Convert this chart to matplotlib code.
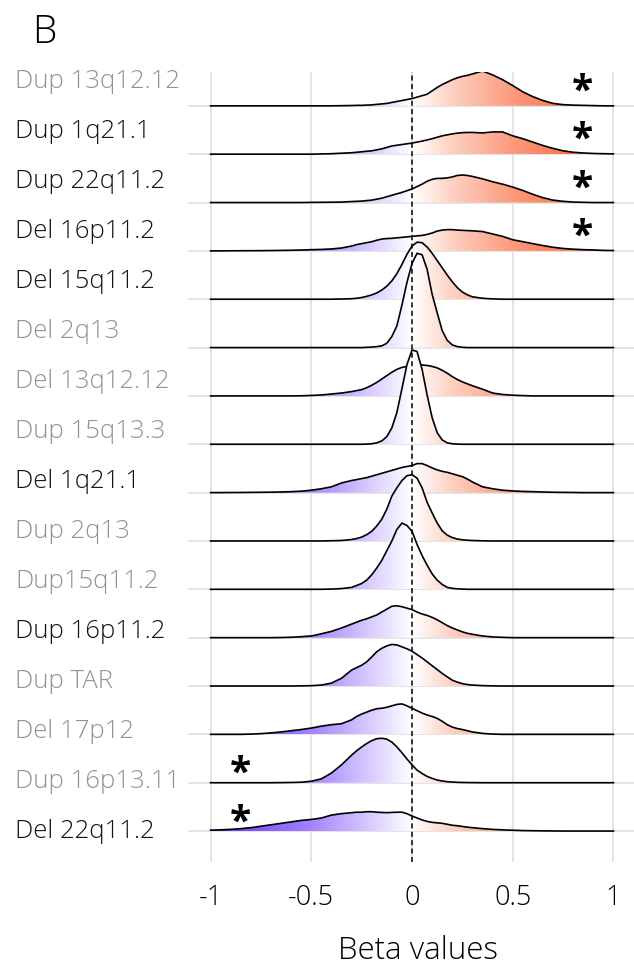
import numpy as np
import matplotlib
matplotlib.use("Agg")
import matplotlib.pyplot as plt
from matplotlib import transforms
from matplotlib.colors import LinearSegmentedColormap, Normalize

# ridge rows, top to bottom
labels = ["Dup 13q12.12", "Dup 1q21.1", "Dup 22q11.2", "Del 16p11.2",
          "Del 15q11.2", "Del 2q13", "Del 13q12.12", "Dup 15q13.3",
          "Del 1q21.1", "Dup 2q13", "Dup15q11.2", "Dup 16p11.2",
          "Dup TAR", "Del 17p12", "Dup 16p13.11", "Del 22q11.2"]
grey_label = [True, False, False, False, False, True, True, True,
              False, True, True, False, True, True, True, False]
# significant rows: '+' star on the right, '-' star on the left
star_side = ["+", "+", "+", "+", "", "", "", "", "", "", "", "", "", "", "-", "-"]

# beta grid the densities were read on (finer near zero)
beta = [-1.0, -0.95, -0.9, -0.85, -0.8, -0.75, -0.7, -0.65, -0.6, -0.55, -0.5, -0.45, -0.4, -0.35, -0.3,
        -0.275, -0.25, -0.225, -0.2, -0.175, -0.15, -0.125, -0.1, -0.075, -0.05, -0.025, 0.0,
        0.025, 0.05, 0.075, 0.1, 0.125, 0.15, 0.175, 0.2, 0.225, 0.25, 0.275,
        0.3, 0.35, 0.4, 0.45, 0.5, 0.55, 0.6, 0.65, 0.7, 0.75, 0.8, 0.85, 0.9, 0.95, 1.0]

# density heights (1 = one row spacing), same order as labels
heights = [
    [0, 0, 0, 0, 0, 0, 0, 0, 0, 0, 0, 0, 0, 0.003, 0.006,
     0.01, 0.01, 0.015, 0.02, 0.03, 0.04, 0.05, 0.07, 0.09, 0.11, 0.13, 0.15,
     0.18, 0.21, 0.24, 0.31, 0.38, 0.44, 0.49, 0.54, 0.58, 0.61, 0.63,
     0.66, 0.72, 0.64, 0.54, 0.42, 0.29, 0.19, 0.11, 0.05, 0.025, 0.015, 0.01, 0.005, 0, 0],
    [0, 0, 0, 0, 0, 0, 0, 0, 0, 0, 0, 0.005, 0.01, 0.02, 0.03,
     0.04, 0.05, 0.06, 0.07, 0.09, 0.11, 0.14, 0.17, 0.185, 0.2, 0.215, 0.23,
     0.25, 0.27, 0.295, 0.32, 0.35, 0.38, 0.4, 0.42, 0.435, 0.445, 0.45,
     0.45, 0.44, 0.46, 0.46, 0.38, 0.32, 0.25, 0.18, 0.12, 0.07, 0.04, 0.025, 0.015, 0.01, 0.007],
    [0, 0, 0, 0, 0, 0, 0, 0, 0, 0, 0.003, 0.005, 0.007, 0.01, 0.02,
     0.025, 0.03, 0.04, 0.05, 0.07, 0.09, 0.12, 0.15, 0.18, 0.21, 0.245, 0.28,
     0.33, 0.38, 0.44, 0.48, 0.5, 0.5, 0.51, 0.53, 0.56, 0.57, 0.56,
     0.54, 0.49, 0.43, 0.38, 0.32, 0.25, 0.17, 0.1, 0.05, 0.025, 0.01, 0.005, 0, 0, 0],
    [0, 0, 0.002, 0.003, 0.004, 0.005, 0.007, 0.01, 0.013, 0.018, 0.025, 0.03, 0.04, 0.06, 0.1,
     0.13, 0.15, 0.17, 0.19, 0.22, 0.245, 0.255, 0.26, 0.27, 0.28, 0.29, 0.3,
     0.31, 0.32, 0.34, 0.37, 0.41, 0.43, 0.44, 0.44, 0.43, 0.425, 0.42,
     0.415, 0.4, 0.35, 0.3, 0.23, 0.19, 0.15, 0.11, 0.075, 0.05, 0.035, 0.025, 0.02, 0.01, 0.007],
    [0, 0, 0, 0, 0, 0, 0, 0, 0, 0, 0, 0, 0, 0.005, 0.01,
     0.02, 0.035, 0.06, 0.09, 0.13, 0.19, 0.27, 0.38, 0.53, 0.72, 0.93, 1.1,
     1.18, 1.17, 1.08, 0.95, 0.8, 0.65, 0.5, 0.36, 0.24, 0.15, 0.09,
     0.05, 0.02, 0.007, 0, 0, 0, 0, 0, 0, 0, 0, 0, 0, 0, 0],
    [0, 0, 0, 0, 0, 0, 0, 0, 0, 0, 0, 0, 0, 0, 0,
     0, 0, 0.005, 0.01, 0.02, 0.035, 0.09, 0.23, 0.45, 0.88, 1.35, 1.74,
     1.95, 1.92, 1.62, 1.1, 0.72, 0.35, 0.15, 0.055, 0.02, 0.007, 0,
     0, 0, 0, 0, 0, 0, 0, 0, 0, 0, 0, 0, 0, 0, 0],
    [0, 0, 0, 0, 0, 0, 0, 0, 0, 0.003, 0.01, 0.02, 0.04, 0.06, 0.09,
     0.11, 0.13, 0.17, 0.22, 0.28, 0.35, 0.42, 0.49, 0.55, 0.59, 0.61, 0.62,
     0.63, 0.64, 0.63, 0.61, 0.58, 0.53, 0.47, 0.4, 0.34, 0.29, 0.25,
     0.21, 0.14, 0.06, 0.03, 0.015, 0.007, 0, 0, 0, 0, 0, 0, 0, 0, 0],
    [0, 0, 0, 0, 0, 0, 0, 0, 0, 0, 0, 0, 0, 0, 0,
     0, 0, 0.003, 0.01, 0.03, 0.07, 0.16, 0.34, 0.66, 1.15, 1.65, 1.95,
     1.92, 1.55, 1.02, 0.55, 0.24, 0.09, 0.03, 0.01, 0.003, 0, 0,
     0, 0, 0, 0, 0, 0, 0, 0, 0, 0, 0, 0, 0, 0, 0],
    [0, 0.001, 0.002, 0.003, 0.005, 0.007, 0.01, 0.014, 0.02, 0.03, 0.05, 0.08, 0.12, 0.2, 0.25,
     0.27, 0.29, 0.31, 0.34, 0.37, 0.4, 0.43, 0.46, 0.49, 0.52, 0.54, 0.56,
     0.6, 0.6, 0.56, 0.51, 0.47, 0.44, 0.42, 0.39, 0.36, 0.33, 0.28,
     0.22, 0.12, 0.08, 0.05, 0.035, 0.025, 0.02, 0.013, 0.008, 0.005, 0.003, 0, 0, 0, 0],
    [0, 0, 0, 0, 0, 0, 0, 0, 0, 0, 0, 0, 0.005, 0.01, 0.03,
     0.05, 0.08, 0.13, 0.2, 0.31, 0.45, 0.66, 0.93, 1.1, 1.25, 1.35, 1.37,
     1.3, 1.1, 0.8, 0.58, 0.37, 0.21, 0.12, 0.07, 0.04, 0.025, 0.015,
     0.01, 0.003, 0, 0, 0, 0, 0, 0, 0, 0, 0, 0, 0, 0, 0],
    [0, 0, 0, 0, 0, 0, 0, 0, 0, 0, 0, 0, 0.005, 0.015, 0.04,
     0.08, 0.12, 0.19, 0.3, 0.44, 0.6, 0.8, 1.0, 1.24, 1.37, 1.32, 1.2,
     0.93, 0.7, 0.5, 0.32, 0.19, 0.1, 0.04, 0.02, 0.01, 0.005, 0,
     0, 0, 0, 0, 0, 0, 0, 0, 0, 0, 0, 0, 0, 0, 0],
    [0, 0, 0, 0, 0, 0, 0, 0.003, 0.008, 0.02, 0.035, 0.08, 0.13, 0.2, 0.28,
     0.32, 0.36, 0.39, 0.43, 0.47, 0.53, 0.59, 0.65, 0.66, 0.64, 0.61, 0.58,
     0.53, 0.49, 0.46, 0.42, 0.37, 0.31, 0.25, 0.2, 0.16, 0.12, 0.09,
     0.07, 0.035, 0.015, 0.007, 0, 0, 0, 0, 0, 0, 0, 0, 0, 0, 0],
    [0, 0, 0, 0, 0, 0, 0, 0, 0, 0.003, 0.007, 0.02, 0.06, 0.16, 0.33,
     0.38, 0.43, 0.5, 0.6, 0.71, 0.78, 0.83, 0.86, 0.85, 0.81, 0.77, 0.72,
     0.65, 0.58, 0.5, 0.42, 0.34, 0.26, 0.19, 0.12, 0.08, 0.05, 0.03,
     0.02, 0.008, 0.003, 0, 0, 0, 0, 0, 0, 0, 0, 0, 0, 0, 0],
    [0, 0, 0, 0, 0.005, 0.015, 0.03, 0.05, 0.075, 0.1, 0.13, 0.17, 0.2, 0.22, 0.3,
     0.37, 0.42, 0.46, 0.5, 0.53, 0.54, 0.56, 0.59, 0.62, 0.63, 0.59, 0.54,
     0.49, 0.44, 0.4, 0.37, 0.33, 0.27, 0.2, 0.15, 0.12, 0.1, 0.075,
     0.05, 0.02, 0.005, 0, 0, 0, 0, 0, 0, 0, 0, 0, 0, 0, 0],
    [0, 0, 0, 0, 0, 0, 0, 0.002, 0.005, 0.01, 0.03, 0.08, 0.2, 0.37, 0.57,
     0.66, 0.74, 0.81, 0.87, 0.91, 0.92, 0.9, 0.84, 0.74, 0.62, 0.49, 0.37,
     0.26, 0.19, 0.13, 0.09, 0.055, 0.035, 0.02, 0.014, 0.008, 0.005, 0.003,
     0.002, 0, 0, 0, 0, 0, 0, 0, 0, 0, 0, 0, 0, 0, 0],
    [0.02, 0.025, 0.035, 0.05, 0.07, 0.1, 0.13, 0.16, 0.19, 0.22, 0.24, 0.27, 0.33, 0.36, 0.38,
     0.39, 0.39, 0.4, 0.4, 0.39, 0.385, 0.38, 0.385, 0.39, 0.39, 0.36, 0.31,
     0.27, 0.23, 0.2, 0.18, 0.17, 0.16, 0.14, 0.12, 0.11, 0.095, 0.08,
     0.07, 0.05, 0.035, 0.025, 0.017, 0.01, 0.007, 0.004, 0.002, 0, 0, 0, 0, 0, 0],
]

xticks = [-1, -0.5, 0, 0.5, 1]
xtick_labels = ["-1", "-0.5", "0", "0.5", "1"]

plt.rcParams['font.family'] = ['Open Sans', 'DejaVu Sans']

fig = plt.figure(figsize=(6.34, 9.67), dpi=100)
ax = fig.add_axes([188 / 634, 105 / 967, 446 / 634, 790 / 967])

n = len(labels)
bases = np.arange(n)[::-1].astype(float)
x = np.array(beta)

# purple - white - coral gradient along beta (-1 .. 1)
cmap = LinearSegmentedColormap.from_list(
    "ridge", [(0, "#6633ff"), (0.25, "#a484ff"), (0.375, "#d2c2ff"), (0.5, "#ffffff"),
              (0.6, "#fdd0c1"), (0.75, "#fb9a7c"), (0.875, "#fb7a55"), (1, "#ff5a35")])
ramp = np.linspace(-1, 1, 600).reshape(1, -1)

for k in range(n):
    b = bases[k]
    h = np.array(heights[k])
    z = 3 + k * 0.1
    poly = ax.fill_between(x, b, b + h, facecolor="none", edgecolor="none", zorder=z)
    img = ax.imshow(ramp, cmap=cmap, norm=Normalize(-1, 1), aspect="auto",
                    extent=(-1, 1, b, b + h.max() + 0.02), origin="lower",
                    interpolation="bilinear", zorder=z)
    img.set_clip_path(poly.get_paths()[0], transform=ax.transData)
    ax.plot(x, b + h, color="black", lw=1.2, zorder=z + 0.05)

ax.axvline(0, color="black", lw=1.1, ls=(0, (3.3, 2.2)), zorder=20)

# significance stars
for k in range(n):
    if star_side[k] == "+":
        ax.text(0.845, bases[k] + 0.28, "*", ha="center", va="center",
                fontsize=28, fontweight="bold", zorder=21)
    elif star_side[k] == "-":
        ax.text(-0.85, bases[k] + 0.17, "*", ha="center", va="center",
                fontsize=28, fontweight="bold", zorder=21)

# row labels (drift from half a row above the baseline at the top to the baseline at the bottom)
trans = transforms.blended_transform_factory(fig.transFigure, ax.transData)
for k in range(n):
    ax.text(15 / 634, bases[k] + 0.5 * (1 - k / (n - 1)), labels[k], transform=trans,
            ha="left", va="center", fontsize=18.5, fontweight="light",
            color="#939393" if grey_label[k] else "#141414")

ax.set_xlim(-1.112, 1.102)
ax.set_ylim(-0.64, n - 1 + 0.70)
ax.set_yticks(bases)
ax.set_yticklabels([])
ax.set_xticks(xticks)
ax.set_xticklabels(xtick_labels, fontweight="light")
ax.tick_params(length=0, labelsize=19.5, pad=16)
ax.grid(True, color="#e4e4e4", lw=1.4)
ax.set_axisbelow(True)
for s in ax.spines.values():
    s.set_visible(False)

fig.text(418 / 634, 1 - 959 / 967, "Beta values", ha="center", va="baseline",
         fontsize=22.5, fontweight="light")
fig.text(32 / 634, 1 - 43 / 967, "B", fontsize=28, fontweight="light", va="baseline")

fig.savefig("out.png", dpi=100)
